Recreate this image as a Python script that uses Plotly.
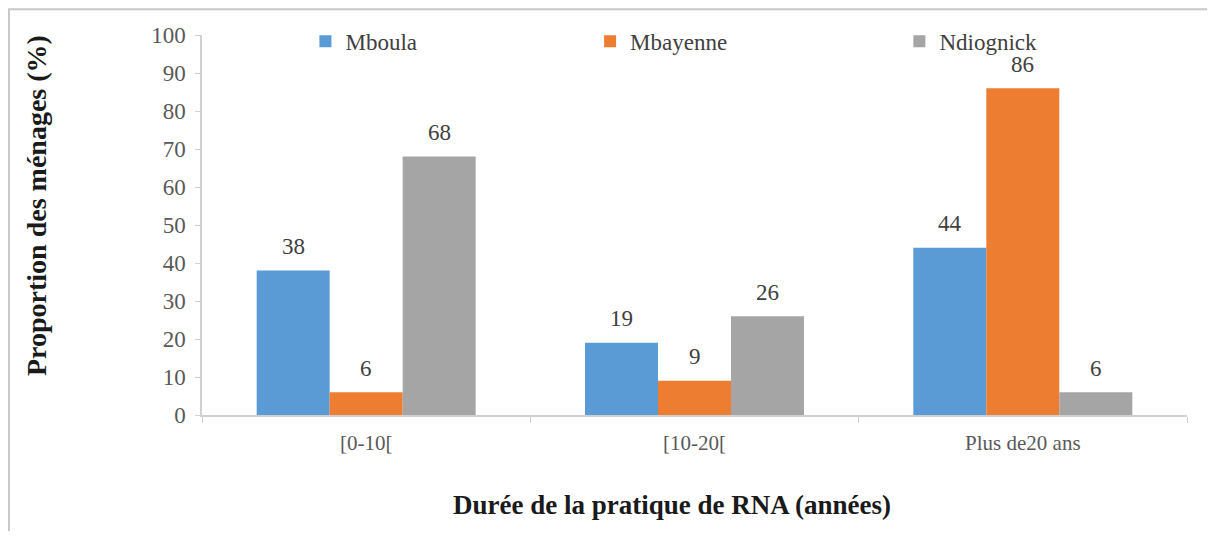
import plotly.graph_objects as go

# durée de pratique de la RNA par village
categories = ["[0-10[", "[10-20[", "Plus de20 ans"]
mboula = [38, 19, 44]
mbayenne = [6, 9, 86]
ndiognick = [68, 26, 6]

series = [
    ("Mboula", mboula, "#5b9bd5"),
    ("Mbayenne", mbayenne, "#ed7d31"),
    ("Ndiognick", ndiognick, "#a5a5a5"),
]

serif = "Liberation Serif"
legend_ids = ["legend", "legend2", "legend3"]
legend_x = [0.105, 0.394, 0.708]

fig = go.Figure()
for i, (name, vals, color) in enumerate(series):
    fig.add_trace(go.Bar(
        x=categories,
        y=vals,
        name=name,
        marker=dict(color=color, line=dict(width=0)),
        legend=legend_ids[i],
        hovertemplate="%{x}: %{y}%<extra>" + name + "</extra>",
    ))
    # étiquettes de valeur au-dessus des barres
    for cat, v in zip(categories, vals):
        fig.add_annotation(
            x=cat, y=v, xref="x", yref="y",
            text=str(v), showarrow=False,
            xshift=(i - 1) * 73, yshift=24, yanchor="middle",
            font=dict(family=serif, size=23, color="#404040"),
        )

# y=1.04 : au-delà la légende repousse la marge du haut
legend_style = dict(
    orientation="h", y=1.04, xanchor="left", yanchor="top",
    font=dict(family=serif, size=23, color="#404040"),
    bgcolor="rgba(0,0,0,0)",
)

# la page ajoute une marge de 8 px autour de la figure -> pas de barre de défilement
fig.update_layout(
    width=1199, height=523,
    paper_bgcolor="white", plot_bgcolor="white",
    barmode="group", bargap=0.333, bargroupgap=0,
    margin=dict(l=194, r=20, t=25, b=116),
    font=dict(family=serif, color="#595959", size=22),
    showlegend=True,
    legend=dict(x=legend_x[0], **legend_style),
    legend2=dict(x=legend_x[1], **legend_style),
    legend3=dict(x=legend_x[2], **legend_style),
)

fig.update_yaxes(
    range=[0, 100], dtick=10, showgrid=False, zeroline=False,
    showline=True, linecolor="#d0d0d0", linewidth=1.5,
    ticks="outside", ticklen=5, tickcolor="#d0d0d0", ticklabelstandoff=5,
    tickfont=dict(family=serif, size=23, color="#595959"),
)
fig.update_xaxes(
    showgrid=False, showline=True, linecolor="#d0d0d0", linewidth=1.5,
    ticks="outside", ticklen=6, tickcolor="#d0d0d0", tickson="boundaries",
    ticklabelstandoff=8,
    tickfont=dict(family=serif, size=21, color="#595959"),
)

# titres des axes
fig.add_annotation(
    text="<b>Proportion des ménages (%)</b>", textangle=-90,
    xref="paper", yref="paper", x=-0.1675, y=0.55,
    xanchor="center", yanchor="middle",
    showarrow=False, font=dict(family=serif, size=28, color="#1a1a1a"),
)
fig.add_annotation(
    text="<b>Durée de la pratique de RNA (années)</b>",
    xref="paper", yref="paper", x=0.477, y=-0.236,
    xanchor="center", yanchor="middle",
    showarrow=False, font=dict(family=serif, size=27, color="#1a1a1a"),
)

# cadre gris du graphique
fig.add_shape(
    type="rect", xref="paper", yref="paper",
    x0=-0.196, y0=-0.4, x1=1.2, y1=1.068,
    line=dict(color="#c8c8c8", width=2), layer="below",
)

fig.write_html("out.html")
